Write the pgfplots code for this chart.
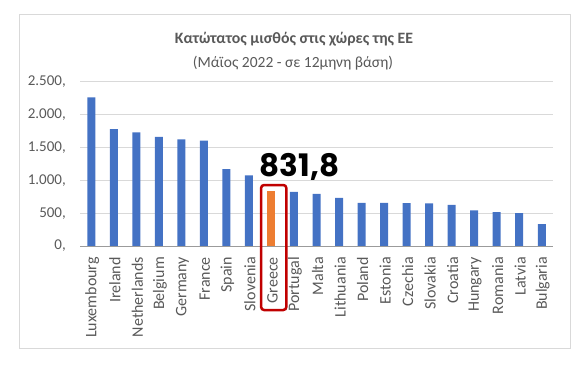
\documentclass[border=0pt]{standalone}
\usepackage{pgfplots}
\pgfplotsset{compat=1.18}
\usepackage{fontspec}
\setmainfont{Carlito}
\newfontfamily\numfont{Poppins}
\definecolor{xlblue}{HTML}{4472C4}
\definecolor{xlorange}{HTML}{ED7D31}
\definecolor{xlgray}{HTML}{595959}
\definecolor{xlgrid}{HTML}{D9D9D9}
\definecolor{xlred}{HTML}{C00000}
\begin{document}
\begin{tikzpicture}[x=1bp,y=1bp]
\useasboundingbox (0,0) rectangle (585,383);
\draw[xlgrid, line width=0.75bp] (19.5,35) rectangle (570,369);
\node[font=\fontsize{15.8bp}{17bp}\selectfont\bfseries, text=xlgray, anchor=base] at (294,340) {Κατώτατος μισθός στις χώρες της ΕΕ};
\node[font=\fontsize{15.5bp}{17bp}\selectfont, text=xlgray, anchor=base] at (293,316) {(Μάϊος 2022 - σε 12μηνη βάση)};
\begin{axis}[
  at={(80bp,137bp)}, anchor=south west,
  scale only axis, width=473bp, height=164.5bp,
  xmin=-0.5, xmax=20.5, ymin=0, ymax=2500,
  axis line style={draw=none},
  ymajorgrids, grid style={xlgrid, line width=0.75bp},
  major tick length=0pt,
  ytick={0,500,1000,1500,2000,2500},
  yticklabels={{0,},{500,},{1.000,},{1.500,},{2.000,},{2.500,}},
  xtick={0,...,20},
  xticklabels={Luxembourg,Ireland,Netherlands,Belgium,Germany,France,Spain,Slovenia,Greece,Portugal,Malta,Lithuania,Poland,Estonia,Czechia,Slovakia,Croatia,Hungary,Romania,Latvia,Bulgaria},
  /pgf/number format/assume math mode=true,
  yticklabel style={font=\fontsize{15bp}{16bp}\selectfont, text=xlgray, anchor=east, inner sep=0pt, xshift=-14bp},
  xticklabel style={font=\fontsize{16bp}{17bp}\selectfont, text=xlgray, rotate=90, anchor=east, inner sep=0pt, yshift=-1bp, xshift=-1bp},
  xticklabel shift=10bp,
  clip=false,
  ybar, bar width=8bp, bar shift=0pt,
]
\addplot[fill=xlblue, draw=none] coordinates {
(0,2256.95) (1,1774.5) (2,1725) (3,1658.23) (4,1621) (5,1603.12) (6,1166.67) (7,1074.43)
(9,822.5) (10,792.26) (11,730) (12,654.91) (13,654) (14,652.35) (15,646) (16,623.66)
(17,541.8) (18,515.4) (19,500) (20,332.34)};
\addplot[fill=xlorange, draw=none] coordinates {(8,831.8)};
\draw[xlgray!60, line width=0.75bp] (axis cs:-0.5,0) -- (axis cs:20.5,0);
\draw[xlred, line width=2.5bp, rounded corners=3bp] (axis cs:7.54,927) rectangle (axis cs:8.66,-973);
\node[font=\numfont\fontsize{31bp}{33bp}\selectfont\bfseries, anchor=center] at (axis cs:9.25,1200) {831,8};
\end{axis}
\end{tikzpicture}
\end{document}
